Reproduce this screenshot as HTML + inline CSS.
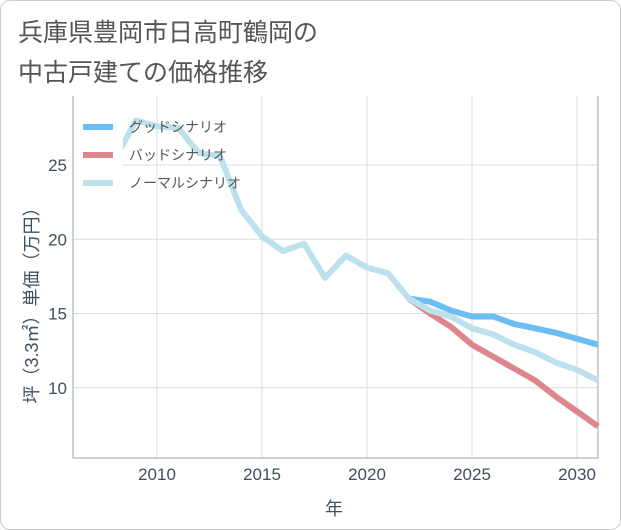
<!DOCTYPE html>
<html><head><meta charset="utf-8"><style>
body{margin:0;background:#fff}
#wrap{position:relative;width:619px;height:528px;border:1px solid #ccc;border-radius:10px;overflow:hidden;font-family:"Liberation Sans","Noto Sans CJK JP",sans-serif}
#title{position:absolute;left:17px;top:12px;font-size:25px;line-height:40px;color:#555}
svg{position:absolute;left:0;top:0}
</style></head><body>
<div id="wrap">
<div id="title">兵庫県豊岡市日高町鶴岡の<br>中古戸建ての価格推移</div>
<svg id="c" width="621" height="530"></svg>
</div>
<script>
const years=[2008,2009,2010,2011,2012,2013,2014,2015,2016,2017,2018,2019,2020,2021,2022,2023,2024,2025,2026,2027,2028,2029,2030,2031];
const normal=[25.4,28.0,27.6,27.5,25.8,25.6,22.0,20.2,19.2,19.7,17.4,18.9,18.1,17.7,16.0,15.2,14.8,14.0,13.6,12.9,12.4,11.7,11.2,10.5];
const goodYears=[2022,2023,2024,2025,2026,2027,2028,2029,2030,2031];
const good=[16.0,15.8,15.2,14.8,14.8,14.3,14.0,13.7,13.3,12.9];
const bad=[16.0,15.0,14.1,12.9,12.1,11.3,10.5,9.4,8.4,7.4];
const xTicks=[2010,2015,2020,2025,2030];
const yTicks=[10,15,20,25];
const L=72,R=597,T=95,B=457;
const x=v=>156+(v-2010)*21;
const y=v=>164-(v-25)*14.85;
const svg=document.getElementById('c');const NS='http://www.w3.org/2000/svg';
function mk(t,a,p){const e=document.createElementNS(NS,t);for(const k in a)e.setAttribute(k,a[k]);(p||svg).appendChild(e);return e;}
xTicks.forEach(t=>{const l=mk('line',{x1:x(t),x2:x(t),y1:T,y2:B,stroke:'#d5dde6','stroke-width':1});

const s=mk('text',{x:x(t),y:479,'text-anchor':'middle','font-size':17,fill:'#3f4f60'});s.textContent=t;
});
yTicks.forEach(t=>{const l=mk('line',{x1:L,x2:R,y1:y(t),y2:y(t),stroke:'#d5dde6','stroke-width':1});

const s=mk('text',{x:66,y:y(t)+6,'text-anchor':'end','font-size':17,fill:'#3f4f60'});s.textContent=t;
});
const ax=mk('path',{d:`M${L} ${T}V${B}H${R}V${T}`,fill:'none',stroke:'#9aa4ae','stroke-width':1});

function line(xs,vs,c,n){const p=mk('polyline',{points:xs.map((t,i)=>x(t)+','+y(vs[i])).join(' '),fill:'none',stroke:c,'stroke-width':6,'stroke-linejoin':'round'});
}
line(goodYears,good,'#6bbdf2','good-scenario-line');
line(goodYears,bad,'#de868d','bad-scenario-line');
line(years,normal,'#bde0ed','normal-scenario-line');
const lg=mk('g',{});
mk('rect',{x:73,y:110,width:49,height:86,fill:'#fff'},lg);
[['グッドシナリオ','#6bbdf2'],['バッドシナリオ','#de868d'],['ノーマルシナリオ','#bde0ed']].forEach((d,i)=>{
const yy=126+i*28;mk('line',{x1:82,x2:112,y1:yy,y2:yy,stroke:d[1],'stroke-width':6},lg);
const t=mk('text',{x:128,y:yy+5,'font-size':14,fill:'#555'},lg);t.textContent=d[0];
});
const xt=mk('text',{x:333,y:514,'text-anchor':'middle','font-size':18,fill:'#3f4f60'});xt.textContent='年';

const yt=mk('text',{x:0,y:0,'text-anchor':'middle','font-size':18,fill:'#3f4f60',transform:'translate(37,300) rotate(-90)'});yt.textContent='坪（3.3㎡）単価（万円）';

</script>
</body></html>
